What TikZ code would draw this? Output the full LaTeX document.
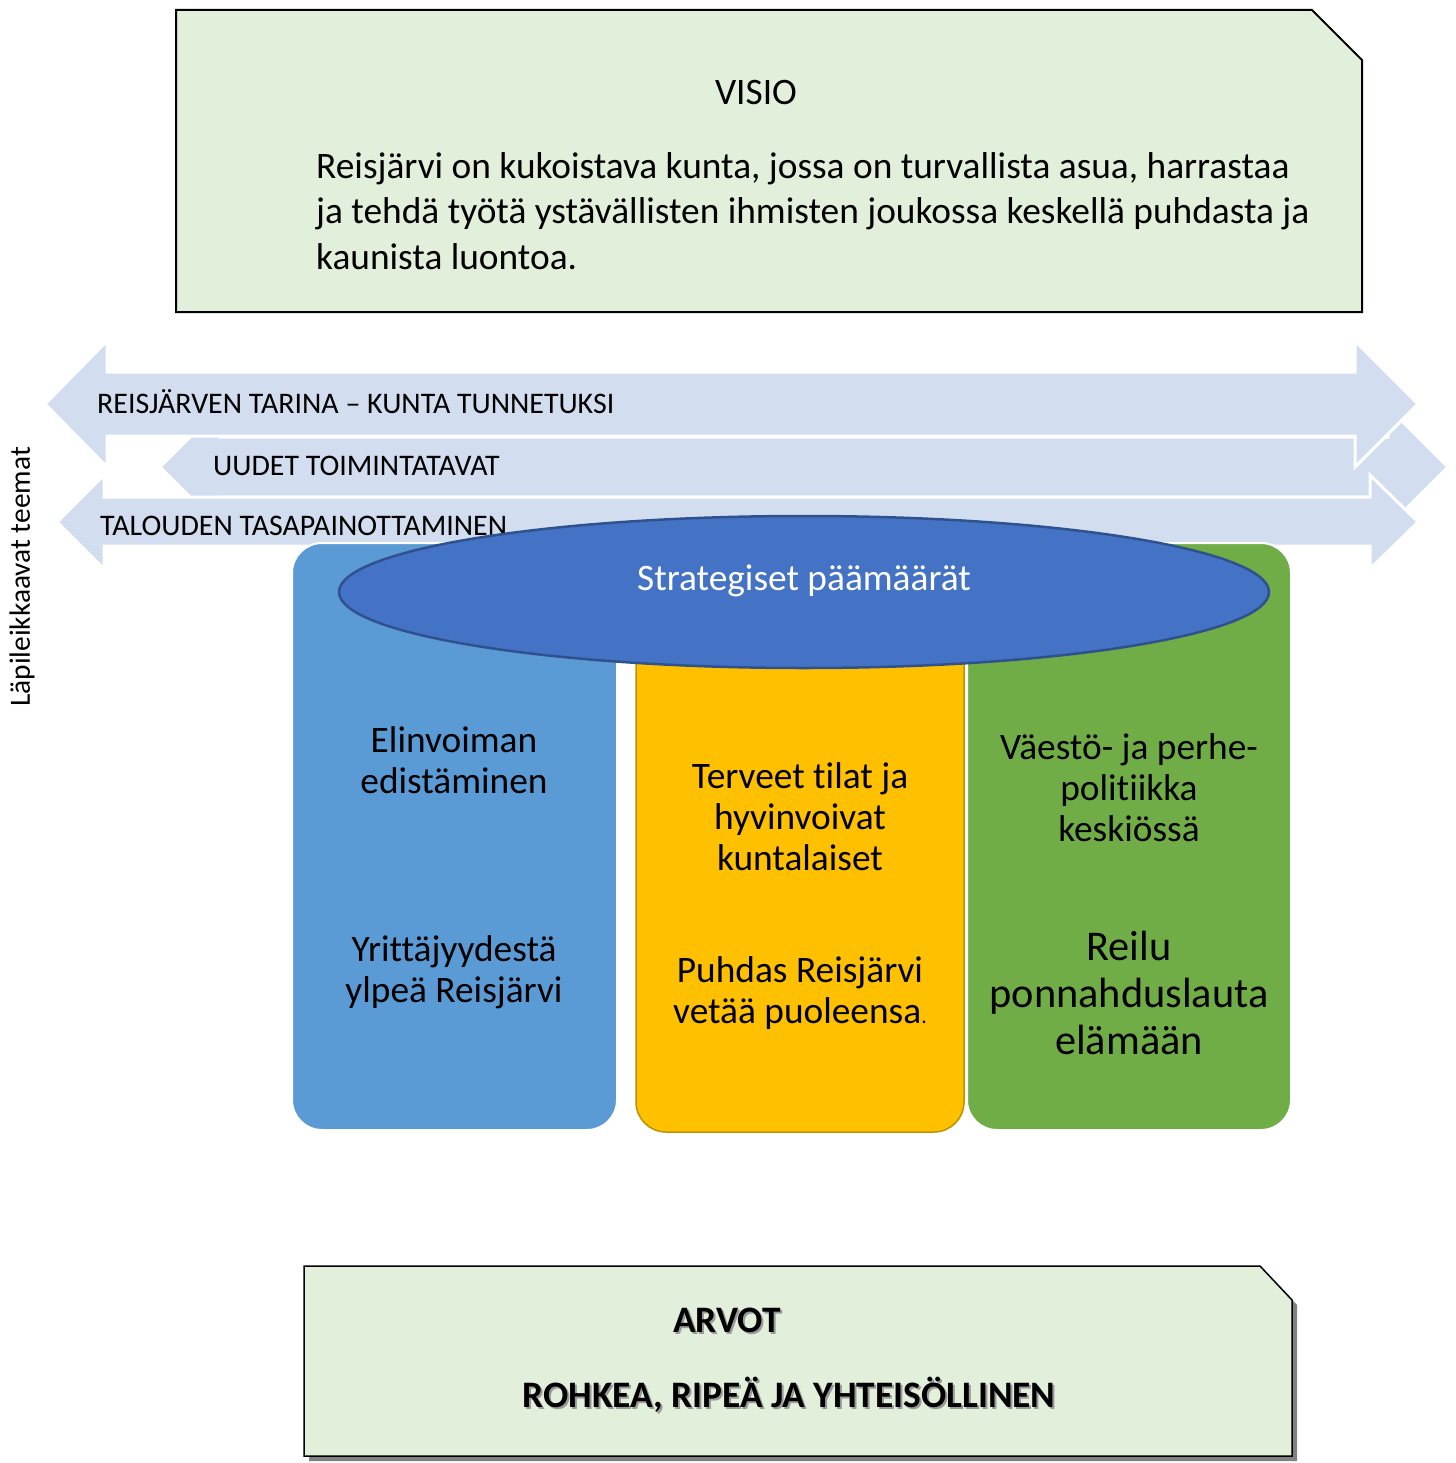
\documentclass[tikz,border=0pt]{standalone}
\usepackage{fontspec}
\setmainfont{Carlito}[Ligatures=NoCommon]
\definecolor{boxgreen}{HTML}{E2EFDA}
\definecolor{arrowblue}{HTML}{D2DEEF}
\definecolor{colblue}{HTML}{5B9BD5}
\definecolor{colyellow}{HTML}{FFC000}
\definecolor{colyellowedge}{HTML}{BF9000}
\definecolor{colgreen}{HTML}{70AD47}
\definecolor{ellfill}{HTML}{4472C4}
\definecolor{elledge}{HTML}{2F528F}
\begin{document}
\begin{tikzpicture}[x=1bp,y=-1bp,
  band/.style={fill=arrowblue, draw=white, line width=3bp, line join=miter},
  bandtext/.style={anchor=west, inner sep=0, font=\fontsize{30}{34}\selectfont},
  column/.style={rounded corners=30bp, draw=white, line width=2bp},
  coltext/.style={align=center, inner sep=0, font=\fontsize{37.5}{41}\selectfont},
  bigtext/.style={align=center, inner sep=0, font=\fontsize{42.5}{47}\selectfont},
  notebox/.style={fill=boxgreen, draw=black, line width=2bp, line join=miter},
  arvotext/.style={inner sep=0, font=\bfseries\fontsize{37.5}{42}\selectfont}]
\useasboundingbox (0,0) rectangle (1456,1463);

% VISIO box
\draw[notebox] (176,10) -- (1312,10) -- (1362,60) -- (1362,312) -- (176,312) -- cycle;
\node[inner sep=0, font=\fontsize{37.5}{44}\selectfont] (visio) at (756,93) {VISIO};
\node[anchor=west, align=left, inner sep=0, font=\fontsize{37.5}{45.5}\selectfont] (vtext) at (316,211)
  {Reisjärvi on kukoistava kunta, jossa on turvallista asua, harrastaa\\
   ja tehdä työtä ystävällisten ihmisten joukossa keskellä puhdasta ja\\
   kaunista luontoa.};

% cross-cutting theme arrows
\draw[band] (160,467) -- (220,407) -- (220,437) -- (1388,437) -- (1388,407) -- (1448,467)
  -- (1388,527) -- (1388,497) -- (220,497) -- (220,527) -- cycle;
\node[bandtext] (t2) at (213,466) {UUDET TOIMINTATAVAT};

\draw[band] (45,404) -- (107,341) -- (107,372) -- (1355,372) -- (1355,341) -- (1418,404)
  -- (1355,467) -- (1355,436) -- (107,436) -- (107,467) -- cycle;
\node[bandtext] (t1) at (97,402) {REISJÄRVEN TARINA – KUNTA TUNNETUKSI};

\draw[band] (57,522) -- (104,475) -- (104,497) -- (1370,497) -- (1370,475) -- (1418,522)
  -- (1370,569) -- (1370,546) -- (104,546) -- (104,569) -- cycle;
\node[bandtext] (t3) at (100,526) {TALOUDEN TASAPAINOTTAMINEN};

\node[rotate=90, inner sep=0, font=\fontsize{29.5}{34}\selectfont] (side) at (22,577) {Läpileikkaavat teemat};

% columns
\draw[column, fill=colblue] (292,543) rectangle (617,1130);
\draw[rounded corners=30bp, fill=colyellow, draw=colyellowedge, line width=1.5bp] (636,580) rectangle (964,1132);
\draw[column, fill=colgreen] (967,543) rectangle (1291,1130);

% ellipse
\draw[fill=ellfill, draw=elledge, line width=2.5bp] (804,592) ellipse [x radius=465, y radius=76];
\node[inner sep=0, text=white, font=\fontsize{37.5}{42}\selectfont] (goals) at (804,581) {Strategiset päämäärät};

% column texts
\node[coltext] (b1) at (454,760) {Elinvoiman\\edistäminen};
\node[coltext] (b2) at (454,972) {Yrittäjyydestä\\ylpeä Reisjärvi};
\node[coltext] (y1) at (800,817) {Terveet tilat ja\\hyvinvoivat\\kuntalaiset};
\node[coltext] (y2) at (800,993) {Puhdas Reisjärvi\\vetää puoleensa{\fontsize{22}{24}\selectfont.}};
\node[coltext] (g1) at (1129,788) {Väestö- ja perhe-\\politiikka\\keskiössä};
\node[bigtext] (g2) at (1129,993) {Reilu\\ponnahduslauta\\elämään};

% ARVOT box
\fill[black!70, opacity=0.7] (309,1271) -- (1265,1271) -- (1297,1305) -- (1297,1461) -- (309,1461) -- cycle;
\draw[notebox, line width=1.5bp] (304,1266) -- (1260,1266) -- (1292,1300) -- (1292,1456) -- (304,1456) -- cycle;
\node[arvotext, text=black!40] at (729,1322) {ARVOT};
\node[arvotext, text=black!40] at (791,1397) {ROHKEA, RIPEÄ JA YHTEISÖLLINEN};
\node[arvotext] (arvot) at (727,1320) {ARVOT};
\node[arvotext] (values) at (789,1395) {ROHKEA, RIPEÄ JA YHTEISÖLLINEN};
\end{tikzpicture}
\end{document}
